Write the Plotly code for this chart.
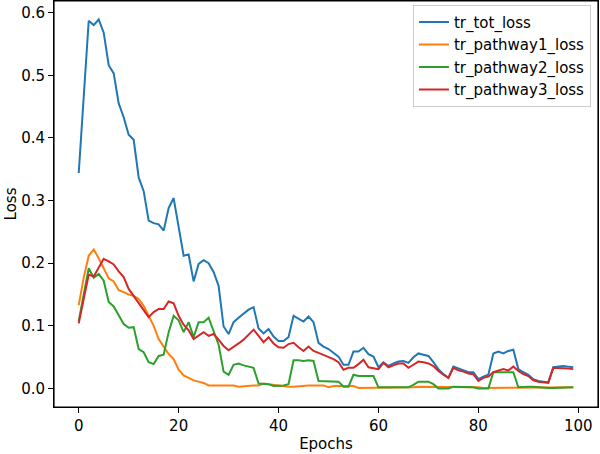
import plotly.graph_objects as go

epochs = list(range(100))

tr_tot_loss = [
    0.344, 0.465, 0.587, 0.580, 0.589, 0.568, 0.516, 0.503, 0.455, 0.433,
    0.405, 0.397, 0.337, 0.315, 0.268, 0.264, 0.262, 0.252, 0.288, 0.304,
    0.257, 0.212, 0.214, 0.171, 0.199, 0.205, 0.200, 0.186, 0.164, 0.099,
    0.087, 0.106, 0.113, 0.119, 0.126, 0.130, 0.096, 0.088, 0.095, 0.083,
    0.076, 0.076, 0.082, 0.116, 0.111, 0.107, 0.115, 0.106, 0.073, 0.067,
    0.063, 0.057, 0.051, 0.038, 0.038, 0.059, 0.059, 0.065, 0.055, 0.051,
    0.034, 0.042, 0.036, 0.040, 0.043, 0.044, 0.041, 0.050, 0.056, 0.054,
    0.052, 0.042, 0.031, 0.023, 0.017, 0.035, 0.032, 0.028, 0.026, 0.026,
    0.015, 0.019, 0.022, 0.056, 0.059, 0.056, 0.060, 0.062, 0.031, 0.026,
    0.022, 0.015, 0.012, 0.011, 0.010, 0.034, 0.035, 0.036, 0.035, 0.034,
]

tr_pathway1_loss = [
    0.133, 0.177, 0.212, 0.222, 0.208, 0.191, 0.176, 0.171, 0.157, 0.154,
    0.150, 0.148, 0.143, 0.132, 0.116, 0.100, 0.079, 0.068, 0.055, 0.047,
    0.030, 0.021, 0.017, 0.013, 0.011, 0.009, 0.005, 0.005, 0.005, 0.005,
    0.004, 0.005, 0.003, 0.004, 0.005, 0.005, 0.005, 0.008, 0.007, 0.006,
    0.004, 0.004, 0.003, 0.003, 0.004, 0.005, 0.005, 0.005, 0.005, 0.005,
    0.002, 0.004, 0.004, 0.004, 0.004, 0.004, 0.001, 0.001, 0.001, 0.001,
    0.001, 0.001, 0.001, 0.001, 0.002, 0.002, 0.002, 0.002, 0.003, 0.003,
    0.003, 0.003, 0.002, 0.002, 0.002, 0.002, 0.002, 0.002, 0.003, 0.003,
    0.002, 0.001, 0.001, 0.001, 0.001, 0.001, 0.001, 0.001, 0.002, 0.002,
    0.002, 0.002, 0.002, 0.002, 0.002, 0.002, 0.002, 0.002, 0.002, 0.002,
]

tr_pathway2_loss = [
    0.108, 0.150, 0.192, 0.177, 0.183, 0.172, 0.138, 0.131, 0.116, 0.103,
    0.097, 0.098, 0.063, 0.058, 0.042, 0.039, 0.052, 0.054, 0.090, 0.116,
    0.109, 0.090, 0.106, 0.082, 0.106, 0.106, 0.113, 0.092, 0.070, 0.027,
    0.022, 0.038, 0.040, 0.037, 0.035, 0.033, 0.008, 0.007, 0.007, 0.004,
    0.004, 0.005, 0.007, 0.045, 0.045, 0.044, 0.045, 0.044, 0.012, 0.012,
    0.012, 0.011, 0.011, 0.003, 0.003, 0.022, 0.020, 0.020, 0.020, 0.020,
    0.002, 0.002, 0.003, 0.002, 0.002, 0.002, 0.002, 0.006, 0.011, 0.011,
    0.011, 0.007, 0.000, 0.000, 0.000, 0.003, 0.003, 0.003, 0.003, 0.002,
    0.000, 0.000, 0.000, 0.026, 0.026, 0.026, 0.026, 0.026, 0.002, 0.003,
    0.003, 0.003, 0.002, 0.001, 0.001, 0.001, 0.001, 0.002, 0.002, 0.002,
]

tr_pathway3_loss = [
    0.104, 0.143, 0.182, 0.179, 0.193, 0.207, 0.203, 0.198, 0.187, 0.178,
    0.159, 0.148, 0.136, 0.124, 0.114, 0.122, 0.127, 0.127, 0.139, 0.136,
    0.116, 0.102, 0.093, 0.079, 0.084, 0.090, 0.084, 0.087, 0.078, 0.068,
    0.061, 0.066, 0.072, 0.078, 0.086, 0.094, 0.084, 0.074, 0.082, 0.072,
    0.066, 0.065, 0.071, 0.073, 0.066, 0.060, 0.067, 0.060, 0.057, 0.054,
    0.051, 0.047, 0.042, 0.030, 0.033, 0.033, 0.039, 0.046, 0.034, 0.033,
    0.031, 0.041, 0.034, 0.037, 0.040, 0.040, 0.033, 0.038, 0.043, 0.042,
    0.040, 0.036, 0.028, 0.022, 0.017, 0.033, 0.029, 0.027, 0.024, 0.023,
    0.012, 0.017, 0.019, 0.026, 0.029, 0.031, 0.029, 0.035, 0.028, 0.023,
    0.020, 0.013, 0.011, 0.010, 0.009, 0.033, 0.033, 0.033, 0.032, 0.031,
]

series = [
    ("tr_tot_loss", tr_tot_loss, "#1f77b4"),
    ("tr_pathway1_loss", tr_pathway1_loss, "#ff7f0e"),
    ("tr_pathway2_loss", tr_pathway2_loss, "#2ca02c"),
    ("tr_pathway3_loss", tr_pathway3_loss, "#d62728"),
]

fig = go.Figure()
for name, vals, color in series:
    fig.add_trace(go.Scatter(x=epochs, y=vals, mode="lines", name=name,
                             line=dict(color=color, width=2)))

font = dict(family="DejaVu Sans", size=15, color="black")

fig.update_layout(
    width=600, height=454,
    margin=dict(l=54, r=2, t=1, b=47),
    paper_bgcolor="white", plot_bgcolor="white",
    font=font,
    showlegend=True,
    legend=dict(
        x=0.987, y=0.991, xanchor="right", yanchor="top",
        bgcolor="rgba(255,255,255,0.8)", bordercolor="#cccccc", borderwidth=1,
        font=font,
    ),
    xaxis=dict(
        range=[-4.95, 103.95], tickmode="array", tickvals=[0, 20, 40, 60, 80, 100],
        showgrid=False, zeroline=False, showline=True, linecolor="black", linewidth=1,
        mirror=True, ticks="outside", ticklen=5, tickcolor="black", tickwidth=1,
        title=dict(text="Epochs", font=font, standoff=4),
    ),
    yaxis=dict(
        range=[-0.02945, 0.6185], tickmode="array",
        tickvals=[0.0, 0.1, 0.2, 0.3, 0.4, 0.5, 0.6],
        ticktext=["0.0", "0.1", "0.2", "0.3", "0.4", "0.5", "0.6"],
        showgrid=False, zeroline=False, showline=True, linecolor="black", linewidth=1,
        mirror=True, ticks="outside", ticklen=5, tickcolor="black", tickwidth=1,
        title=dict(text="Loss", font=font, standoff=0),
    ),
    shapes=[dict(type="rect", xref="paper", yref="paper", x0=0, y0=0, x1=1, y1=1,
                 line=dict(color="black", width=1.2), fillcolor="rgba(0,0,0,0)",
                 layer="above")],
)

fig.write_html("out.html", config={"displayModeBar": False},
               post_script="document.body.style.margin='0';")
